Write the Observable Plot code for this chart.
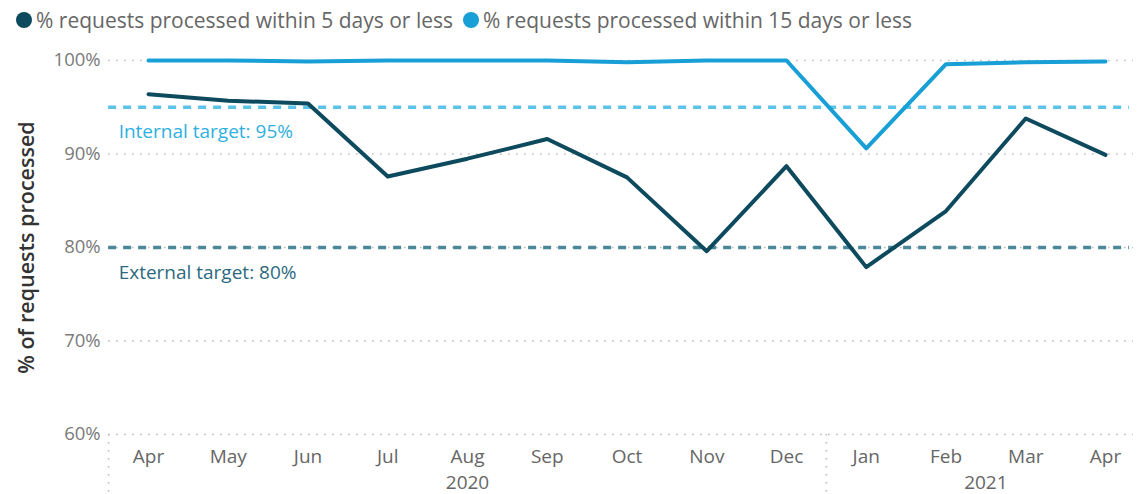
<!DOCTYPE html>
<html>
<head>
<meta charset="utf-8">
<script src="https://cdn.jsdelivr.net/npm/d3@7"></script>
<script src="https://cdn.jsdelivr.net/npm/@observablehq/plot@0.6"></script>
<style>
  body { margin: 0; background: #fff; font-family: "Open Sans", sans-serif; }
  #legend { height: 40px; display: flex; align-items: center; padding-left: 16px; font-size: 21px; color: #666; white-space: nowrap; }
  .item { display: flex; align-items: center; margin-right: 10px; }
  .dot { width: 16px; height: 16px; border-radius: 50%; margin-right: 4px; }
  svg { display: block; }
</style>
</head>
<body>
<div id="legend"></div>
<div id="chart"></div>
<script>
const months = ["Apr","May","Jun","Jul","Aug","Sep","Oct","Nov","Dec","Jan","Feb","Mar","Apr"];
const within5 = [96.4, 95.7, 95.4, 87.6, 89.5, 91.6, 87.5, 79.6, 88.7, 77.9, 83.9, 93.8, 89.9];
const within15 = [100, 100, 99.9, 100, 100, 100, 99.8, 100, 100, 90.6, 99.6, 99.8, 99.9];
const seriesNames = ["% requests processed within 5 days or less", "% requests processed within 15 days or less"];
const seriesColors = ["#0d4a5e", "#189fd6"];
const yTicks = [60, 70, 80, 90, 100];
const years = ["2020", "2021"];
const yearStart = [0, 9];
const yearEnd = [8, 12];
const targetValues = [95, 80];
const targetLabels = ["Internal target: 95%", "External target: 80%"];
const targetColors = ["#5cc3e8", "#4a8799"];
const targetTextColors = ["#2fb0e0", "#2d6a80"];

const legend = document.getElementById("legend");
seriesNames.forEach((n, i) => {
  const it = document.createElement("div"); it.className = "item";
  const d = document.createElement("div"); d.className = "dot"; d.style.background = seriesColors[i];
  const t = document.createElement("span"); t.textContent = n;
  it.appendChild(d); it.appendChild(t); legend.appendChild(it);
});

const idx = months.map((m, i) => i);
const yearMid = years.map((y, i) => (yearStart[i] + yearEnd[i]) / 2);
const xLeft = -0.5, xRight = 12.35, yBottom = 53.6;

const chart = Plot.plot({
  width: 1141,
  height: 454,
  marginLeft: 148,
  marginRight: 36,
  marginTop: 20,
  marginBottom: 60,
  style: { fontFamily: "Open Sans, sans-serif", background: "#fff" },
  x: { type: "linear", domain: [0, 12], axis: null },
  y: { domain: [60, 100], axis: null },
  marks: [
    Plot.ruleY(yTicks, { x1: xLeft, x2: xRight, stroke: "#b8b8b8", strokeWidth: 1.5, strokeDasharray: "1.5,6.5" }),
    Plot.ruleX([xLeft, 8.5], { y1: 60, y2: yBottom, stroke: "#b8b8b8", strokeWidth: 1.5, strokeDasharray: "1.5,6.5" }),
    Plot.text(yTicks, { x: xLeft, y: d => d, text: d => d + "%", textAnchor: "end", dx: -8, fill: "#7a7a7a", fontSize: 18.5 }),
    Plot.text(["% of requests processed"], { frameAnchor: "left", textAnchor: "middle", dx: -121, rotate: -90, fill: "#333", fontSize: 21.5, fontWeight: 600 }),
    Plot.ruleY([targetValues[0]], { x1: xLeft, x2: xRight - 0.05, stroke: targetColors[0], strokeWidth: 3.5, strokeDasharray: "8,7" }),
    Plot.ruleY([targetValues[1]], { x1: xLeft, x2: xRight - 0.05, stroke: targetColors[1], strokeWidth: 3.5, strokeDasharray: "8,7" }),
    Plot.text([0], { x: xLeft, y: targetValues[0], text: () => targetLabels[0], textAnchor: "start", dx: 10, dy: 25, fill: targetTextColors[0], fontSize: 19 }),
    Plot.text([0], { x: xLeft, y: targetValues[1], text: () => targetLabels[1], textAnchor: "start", dx: 10, dy: 25, fill: targetTextColors[1], fontSize: 19 }),
    Plot.line(idx, { x: i => i, y: i => within15[i], stroke: seriesColors[1], strokeWidth: 4 }),
    Plot.line(idx, { x: i => i, y: i => within5[i], stroke: seriesColors[0], strokeWidth: 4 }),
    Plot.text(idx, { x: i => i, y: 60, text: i => months[i], dy: 22, fill: "#666", fontSize: 19 }),
    Plot.text(years, { x: (d, i) => yearMid[i], y: 60, text: d => d, dy: 48, fill: "#666", fontSize: 19 })
  ]
});
document.getElementById("chart").appendChild(chart);
</script>
</body>
</html>
